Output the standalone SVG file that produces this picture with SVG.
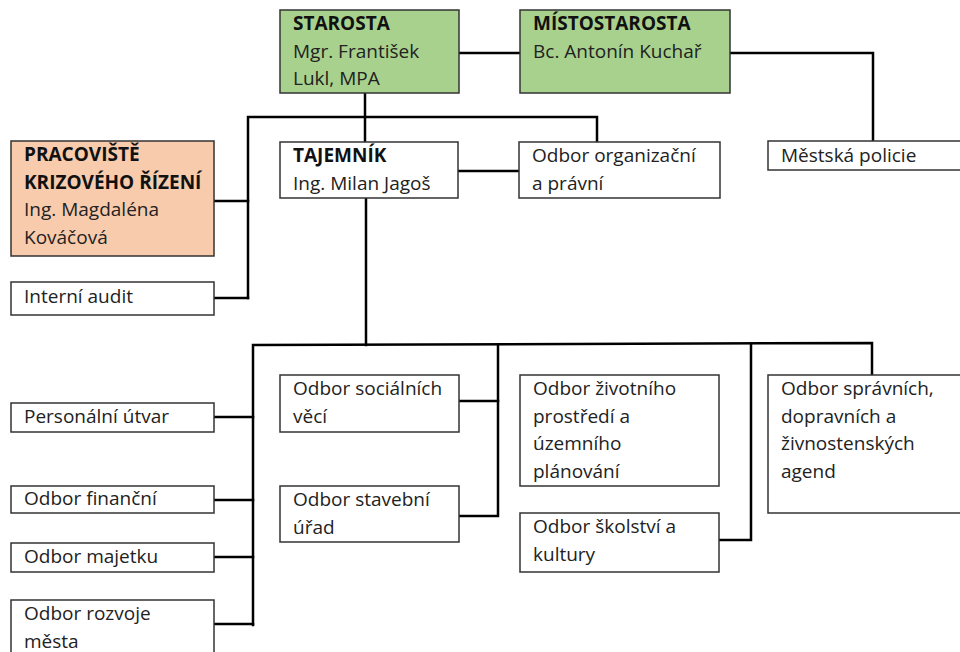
<svg xmlns="http://www.w3.org/2000/svg" width="960" height="652" viewBox="0 0 960 652">
<style>
.box{fill:#ffffff;stroke:#333333;stroke-width:1.5}
.green{fill:#A9D18E}
.peach{fill:#F8CBAD}
text{font-family:"Open Sans","Noto Sans","DejaVu Sans",sans-serif;font-size:19px;fill:#222222}
.b{font-weight:bold;fill:#111111}
.conn{fill:none;stroke:#000000;stroke-width:2.5;stroke-linecap:square}
</style>
<rect width="960" height="652" fill="#ffffff"/>
<g id="connectors">
<path class="conn" d="M459,53 H520"/>
<path class="conn" d="M730,53 H873 V141"/>
<path class="conn" d="M365,93 V142"/>
<path class="conn" d="M597,142 V117 H248 V298"/>
<path class="conn" d="M214,201 H248"/>
<path class="conn" d="M214,298 H248"/>
<path class="conn" d="M458,171 H519"/>
<path class="conn" d="M366,198 V345"/>
<path class="conn" d="M253,625 V345 L872,343 V375"/>
<path class="conn" d="M214,417 H253"/>
<path class="conn" d="M214,500 H253"/>
<path class="conn" d="M214,557 H253"/>
<path class="conn" d="M214,624 H253"/>
<path class="conn" d="M498,345 V516 H459"/>
<path class="conn" d="M459,401 H498"/>
<path class="conn" d="M751,344 V540 H719"/>
</g>
<g id="starosta">
<rect class="box green" x="280" y="10" width="179" height="83"/>
<text x="293" y="30" class="b">STAROSTA</text>
<text x="293" y="57.5">Mgr. František</text>
<text x="293" y="85">Lukl, MPA</text>
</g>
<g id="mistostarosta">
<rect class="box green" x="520" y="10" width="210" height="83"/>
<text x="533" y="30" class="b">MÍSTOSTAROSTA</text>
<text x="533" y="57.5">Bc. Antonín Kuchař</text>
</g>
<g id="krizove-rizeni">
<rect class="box peach" x="11" y="141" width="203" height="115"/>
<text x="24" y="161" class="b">PRACOVIŠTĚ</text>
<text x="24" y="188.5" class="b">KRIZOVÉHO ŘÍZENÍ</text>
<text x="24" y="216">Ing. Magdaléna</text>
<text x="24" y="243.5">Kováčová</text>
</g>
<g id="interni-audit">
<rect class="box" x="11" y="282" width="203" height="33"/>
<text x="24" y="303">Interní audit</text>
</g>
<g id="tajemnik">
<rect class="box" x="280" y="142" width="178" height="56"/>
<text x="293" y="162" class="b">TAJEMNÍK</text>
<text x="293" y="189.5">Ing. Milan Jagoš</text>
</g>
<g id="organizacni">
<rect class="box" x="519" y="142" width="201" height="56"/>
<text x="532" y="162">Odbor organizační</text>
<text x="532" y="189.5">a právní</text>
</g>
<g id="policie">
<rect class="box" x="768" y="141" width="200" height="29"/>
<text x="781" y="162">Městská policie</text>
</g>
<g id="personalni">
<rect class="box" x="11" y="403" width="203" height="29"/>
<text x="24" y="423">Personální útvar</text>
</g>
<g id="financni">
<rect class="box" x="11" y="486" width="203" height="27"/>
<text x="24" y="505">Odbor finanční</text>
</g>
<g id="majetku">
<rect class="box" x="11" y="543" width="203" height="29"/>
<text x="24" y="563">Odbor majetku</text>
</g>
<g id="rozvoje">
<rect class="box" x="11" y="600" width="203" height="60"/>
<text x="24" y="620">Odbor rozvoje</text>
<text x="24" y="648">města</text>
</g>
<g id="socialni">
<rect class="box" x="280" y="375" width="179" height="57"/>
<text x="293" y="395">Odbor sociálních</text>
<text x="293" y="422.5">věcí</text>
</g>
<g id="stavebni">
<rect class="box" x="280" y="486" width="179" height="56"/>
<text x="293" y="506">Odbor stavební</text>
<text x="293" y="533.5">úřad</text>
</g>
<g id="zivotni">
<rect class="box" x="520" y="375" width="199" height="111"/>
<text x="533" y="395">Odbor životního</text>
<text x="533" y="422.5">prostředí a</text>
<text x="533" y="450">územního</text>
<text x="533" y="477.5">plánování</text>
</g>
<g id="skolstvi">
<rect class="box" x="520" y="513" width="199" height="59"/>
<text x="533" y="533">Odbor školství a</text>
<text x="533" y="560.5">kultury</text>
</g>
<g id="spravni">
<rect class="box" x="768" y="375" width="200" height="138"/>
<text x="781" y="395">Odbor správních,</text>
<text x="781" y="422.5">dopravních a</text>
<text x="781" y="450">živnostenských</text>
<text x="781" y="477.5">agend</text>
</g>
</svg>
